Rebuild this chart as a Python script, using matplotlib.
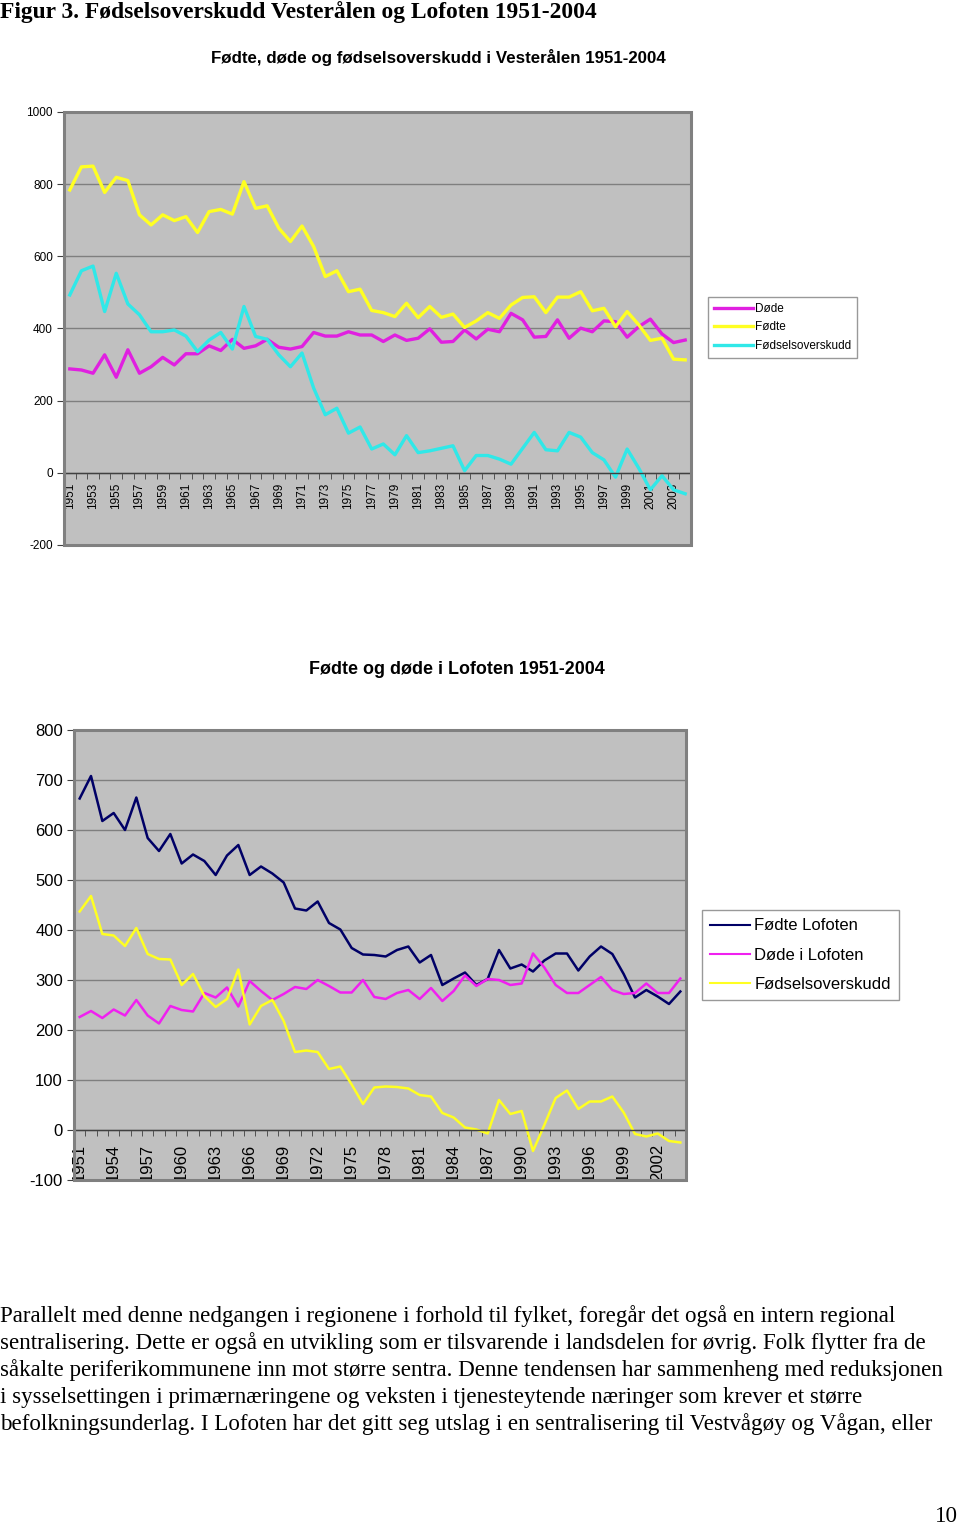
import matplotlib
matplotlib.use("Agg")
import matplotlib.pyplot as plt
from matplotlib.patches import Rectangle

# Data
years = list(range(1951, 2005))

# Vesterålen
vest_dode = [288, 285, 276, 327, 265, 341, 276, 294, 320, 299,
             330, 330, 352, 339, 370, 345, 352, 370, 348, 343,
             350, 389, 379, 379, 391, 382, 382, 364, 382, 367,
             373, 399, 362, 364, 396, 371, 398, 391, 442, 424,
             376, 378, 424, 373, 401, 391, 421, 419, 376, 405,
             426, 385, 361, 368]
vest_fodte = [784, 848, 850, 777, 819, 810, 715, 687, 715, 699,
              710, 666, 724, 730, 717, 807, 733, 740, 678, 641,
              684, 627, 544, 560, 502, 509, 450, 444, 433, 470,
              430, 461, 431, 440, 403, 421, 444, 428, 465, 486,
              488, 444, 487, 487, 502, 449, 456, 405, 447, 410,
              367, 373, 315, 313]
vest_overskudd = [493, 560, 573, 447, 553, 468, 438, 391, 391, 396,
                  379, 336, 368, 389, 343, 461, 378, 370, 327, 294,
                  332, 235, 161, 179, 110, 127, 66, 80, 50, 103,
                  56, 61, 68, 75, 6, 48, 48, 38, 24, 68,
                  112, 64, 61, 112, 99, 56, 36, -12, 66, 13,
                  -47, -8, -47, -58]

# Lofoten
lof_fodte = [663, 708, 618, 634, 600, 665, 584, 558, 592, 533,
             551, 538, 510, 549, 570, 510, 527, 513, 495, 443,
             439, 457, 414, 401, 364, 351, 350, 347, 360, 367,
             335, 350, 290, 303, 315, 290, 302, 360, 323, 331,
             317, 339, 353, 353, 319, 347, 367, 352, 312, 265,
             280, 267, 252, 277]
lof_dode = [226, 238, 224, 241, 229, 260, 229, 213, 248, 240,
            237, 274, 265, 285, 247, 298, 278, 260, 272, 286,
            282, 300, 288, 275, 275, 300, 266, 262, 274, 280,
            262, 284, 258, 278, 309, 288, 302, 300, 290, 293,
            353, 325, 290, 274, 274, 290, 306, 280, 272, 274,
            293, 274, 274, 303]
lof_overskudd = [437, 468, 392, 389, 368, 404, 352, 342, 341, 290,
                 312, 268, 246, 262, 321, 211, 248, 260, 218, 156,
                 159, 156, 122, 127, 91, 52, 85, 87, 86, 83,
                 70, 67, 34, 25, 5, 1, -7, 60, 32, 38,
                 -42, 10, 64, 79, 42, 57, 57, 67, 35, -8,
                 -13, -7, -22, -25]

paragraph = [
    "Parallelt med denne nedgangen i regionene i forhold til fylket, foregår det også en intern regional",
    "sentralisering. Dette er også en utvikling som er tilsvarende i landsdelen for øvrig. Folk flytter fra de",
    "såkalte periferikommunene inn mot større sentra. Denne tendensen har sammenheng med reduksjonen",
    "i sysselsettingen i primærnæringene og veksten i tjenesteytende næringer som krever et større",
    "befolkningsunderlag. I Lofoten har det gitt seg utslag i en sentralisering til Vestvågøy og Vågan, eller",
]

plt.rcParams['font.family'] = ['Liberation Sans', 'DejaVu Sans']
plt.rcParams['axes.unicode_minus'] = False
serif = ['Liberation Serif', 'DejaVu Serif']

W, H = 960, 1525
fig = plt.figure(figsize=(W / 100, H / 100), dpi=100)
fig.patch.set_facecolor('white')


def px_axes(x0, y0, x1, y1):
    return fig.add_axes([x0 / W, 1 - y1 / H, (x1 - x0) / W, (y1 - y0) / H])


def style_axes(ax, ylim, ystep, label_every, fsize_y, fsize_x, xpad):
    n = len(years)
    ax.set_facecolor('#C0C0C0')
    ax.set_xlim(-0.5, n - 0.5)
    ax.set_ylim(*ylim)
    ax.set_yticks(range(ylim[0], ylim[1] + 1, ystep))
    ax.grid(axis='y', color='#7f7f7f', lw=1.0)
    ax.set_axisbelow(True)
    for s in ['top', 'right']:
        ax.spines[s].set_visible(False)
    ax.spines['left'].set_color('#404040')
    ax.spines['left'].set_linewidth(1.2)
    ax.spines['bottom'].set_position(('data', 0))
    ax.spines['bottom'].set_color('#404040')
    ax.spines['bottom'].set_linewidth(1.0)
    idx = list(range(0, n, label_every))
    ax.set_xticks(idx)
    ax.set_xticklabels([str(years[i]) for i in idx], rotation=90,
                       fontsize=fsize_x, va='top')
    ax.set_xticks([i - 0.5 for i in range(1, n + 1)], minor=True)
    ax.tick_params(axis='x', which='major', length=0, pad=xpad)
    ax.tick_params(axis='x', which='minor', length=4, color='#404040', direction='out')
    ax.tick_params(axis='y', length=5, color='#404040', labelsize=fsize_y, pad=3)
    ax.add_patch(Rectangle((0, 0), 1, 1, transform=ax.transAxes, fill=False,
                           edgecolor='#808080', lw=2.2, clip_on=False, zorder=5))


x = list(range(len(years)))

# Top chart: Vesterålen
ax1 = px_axes(64, 112, 691, 545)
style_axes(ax1, (-200, 1000), 200, 2, 8.5, 8.5, 7)
ax1.plot(x, vest_dode, color='#E020E0', lw=2.4, label='Døde')
ax1.plot(x, vest_fodte, color='#FFFF22', lw=2.4, label='Fødte')
ax1.plot(x, vest_overskudd, color='#30E8E8', lw=2.4, label='Fødselsoverskudd')
leg1 = ax1.legend(loc='upper left', bbox_to_anchor=(708 / W, 1 - 297 / H),
                  bbox_transform=fig.transFigure, fontsize=8.5, frameon=True,
                  fancybox=False, edgecolor='#808080', borderpad=0.5,
                  handlelength=3.3, handletextpad=0.2, labelspacing=0.55,
                  borderaxespad=0)
leg1.get_frame().set_linewidth(1.0)

fig.text(438 / W, 1 - 58 / H, 'Fødte, døde og fødselsoverskudd i Vesterålen 1951-2004',
         ha='center', va='center', fontsize=12.2, fontweight='bold')

# Bottom chart: Lofoten
ax2 = px_axes(74, 730, 686, 1180)
style_axes(ax2, (-100, 800), 100, 3, 12, 12, 10)
ax2.plot(x, lof_fodte, color='#000066', lw=1.8, label='Fødte Lofoten')
ax2.plot(x, lof_dode, color='#F020F0', lw=1.8, label='Døde i Lofoten')
ax2.plot(x, lof_overskudd, color='#FFFF22', lw=1.8, label='Fødselsoverskudd')
leg2 = ax2.legend(loc='upper left', bbox_to_anchor=(702 / W, 1 - 910 / H),
                  bbox_transform=fig.transFigure, fontsize=12, frameon=True,
                  fancybox=False, edgecolor='#808080', borderpad=0.5,
                  handlelength=2.4, handletextpad=0.25, labelspacing=0.85,
                  borderaxespad=0)
leg2.get_frame().set_linewidth(1.0)
for line in leg2.get_lines():
    line.set_linewidth(1.5)

fig.text(457 / W, 1 - 669 / H, 'Fødte og døde i Lofoten 1951-2004',
         ha='center', va='center', fontsize=12.9, fontweight='bold')

# Page text
fig.text(0, 1 - 12 / H, 'Figur 3. Fødselsoverskudd Vesterålen og Lofoten 1951-2004',
         ha='left', va='center', fontsize=16.9, fontweight='bold', family=serif)
for i, line in enumerate(paragraph):
    fig.text(0, 1 - (1316 + 27 * i) / H, line, ha='left', va='center',
             fontsize=16.6, family=serif)
fig.text(958 / W, 1 - 1516 / H, '10', ha='right', va='center', fontsize=16.6,
         family=serif)

fig.savefig('out.png', dpi=100, facecolor='white')
